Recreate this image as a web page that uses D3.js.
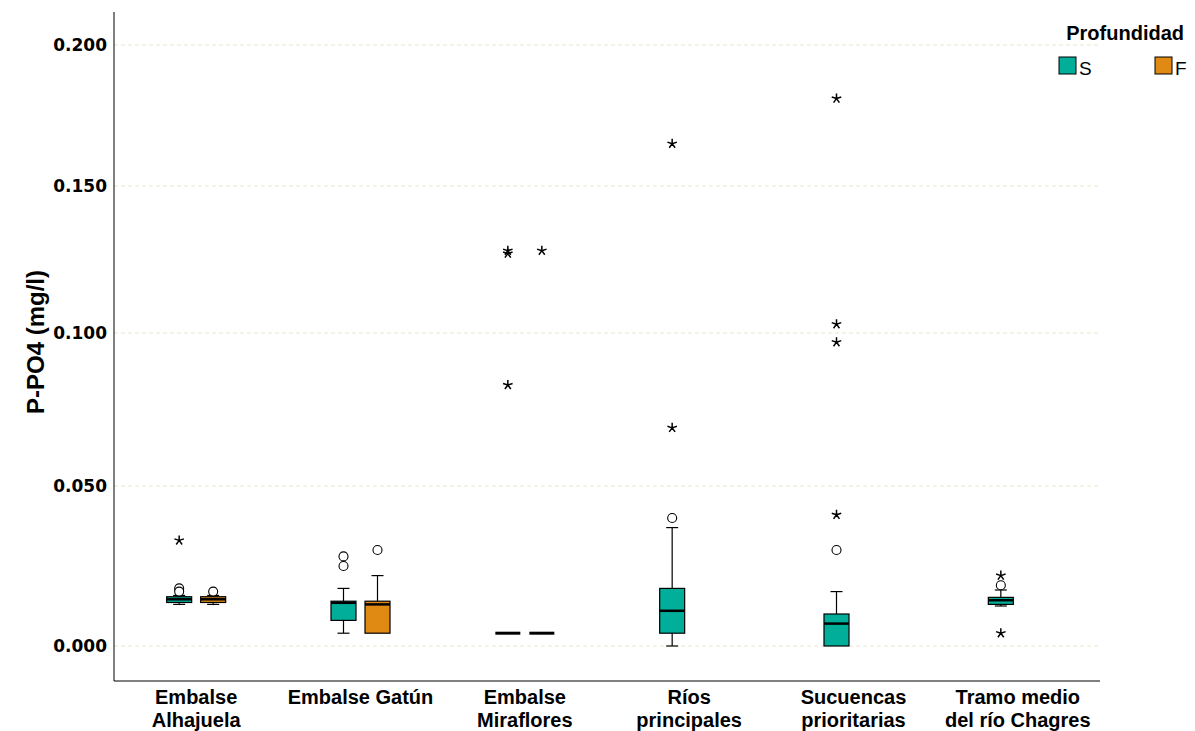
<!DOCTYPE html>
<html><head><meta charset="utf-8">
<script src="https://cdn.jsdelivr.net/npm/d3@7"></script>
<style>body{margin:0;background:#fff}svg{display:block}</style>
</head><body>
<svg id="c" width="1195" height="731"></svg>
<script>
const categories = [["Embalse","Alhajuela"],["Embalse Gatún"],["Embalse","Miraflores"],["Ríos","principales"],["Sucuencas","prioritarias"],["Tramo medio","del río Chagres"]];
const catKeys = categories.map(c => c.join(" "));
const depths = ["S","F"];
const depthColors = ["#00ae9a","#e08a14"];
const yTicks = [0, 0.05, 0.1, 0.15, 0.2];

// S (superficie)
const sLow  = [0.013, 0.004, 0.004, 0.000, 0.000, 0.0125];
const sQ1   = [0.0136,0.008, 0.004, 0.004, 0.000, 0.013];
const sMed  = [0.0146,0.0135,0.004, 0.011, 0.007, 0.0143];
const sQ3   = [0.0154,0.014, 0.004, 0.018, 0.010, 0.0152];
const sHigh = [0.0158,0.018, 0.004, 0.037, 0.017, 0.0175];
const sCircles = [[0.018,0.017],[0.028,0.025],[],[0.040],[0.030],[0.019]];
const sStars   = [[0.033],[],[0.128,0.127,0.083],[0.165,0.069],[0.181,0.103,0.097,0.041],[0.022,0.004]];
// F (fondo)
const fLow  = [0.013, 0.004, 0.004, null, null, null];
const fQ1   = [0.0136,0.004, 0.004, null, null, null];
const fMed  = [0.0146,0.013, 0.004, null, null, null];
const fQ3   = [0.0154,0.014, 0.004, null, null, null];
const fHigh = [0.0158,0.022, 0.004, null, null, null];
const fCircles = [[0.017],[0.030],[],[],[],[]];
const fStars   = [[],[],[0.128],[],[],[]];

const svg = d3.select("#c");
const left = 114, right = 1100, axisTop = 12, axisBottom = 681;

const x = d3.scaleBand().domain(catKeys).range([left, right]).padding(0);
const sub = d3.scaleBand().domain(depths).range([-34, 34]);
const y = d3.scaleLinear().domain(yTicks).range([646, 486, 333, 186, 45]);

// grid
svg.append("g").selectAll("line").data(yTicks).join("line")
  .attr("x1", left).attr("x2", right)
  .attr("y1", d => y(d)).attr("y2", d => y(d))
  .attr("stroke", "#e9e5cc").attr("stroke-width", 1).attr("stroke-dasharray", "4,3");

// axes lines
svg.append("line").attr("x1", left).attr("x2", left).attr("y1", axisTop).attr("y2", axisBottom).attr("stroke","#000").attr("stroke-width",1);
svg.append("line").attr("x1", left).attr("x2", right).attr("y1", axisBottom).attr("y2", axisBottom).attr("stroke","#000").attr("stroke-width",1);

// y tick labels
const yAxis = svg.append("g").attr("transform", `translate(${left-7},0)`)
  .call(d3.axisLeft(y).tickValues(yTicks).tickSize(0).tickFormat(d3.format(".3f")));
yAxis.select(".domain").remove();
yAxis.selectAll("text").attr("font-family","DejaVu Sans, Verdana, sans-serif").attr("font-weight","bold").attr("font-size",17).attr("fill","#000").attr("dy","0.35em").attr("x",0);

// y label
svg.append("text").attr("transform","translate(44,342) rotate(-90)").attr("text-anchor","middle")
  .attr("font-family","Liberation Sans, Arial, sans-serif").attr("font-weight","bold").attr("font-size",24).text("P-PO4 (mg/l)");

// x labels
const xl = svg.append("g");
categories.forEach((lines, i) => {
  const cx = x(catKeys[i]) + x.bandwidth()/2;
  const t = xl.append("text").attr("text-anchor","middle").attr("x", cx)
    .attr("y", 704).attr("font-family","Liberation Sans, Arial, sans-serif").attr("font-weight","bold").attr("font-size",20);
  lines.forEach((l, j) => t.append("tspan").attr("x", cx).attr("dy", j ? 23 : 0).text(l));
});

// star symbol (5-arm asterisk)
const star5 = { draw(ctx, size) { const r = Math.sqrt(size)/2; for (let k=0;k<5;k++){ const a = -Math.PI/2 + k*2*Math.PI/5; ctx.moveTo(0,0); ctx.lineTo(r*Math.cos(a), r*Math.sin(a)); } } };

const boxW = 25, capW = 12;
const series = [
  {key:"S", color:depthColors[0], low:sLow, q1:sQ1, med:sMed, q3:sQ3, high:sHigh, circ:sCircles, stars:sStars},
  {key:"F", color:depthColors[1], low:fLow, q1:fQ1, med:fMed, q3:fQ3, high:fHigh, circ:fCircles, stars:fStars}
];
const g = svg.append("g");
series.forEach(s => {
  catKeys.forEach((c, i) => {
    const cx = x(c) + x.bandwidth()/2 + sub(s.key) + sub.bandwidth()/2;
    const gg = g.append("g");
    if (s.med[i] !== null) {
      gg.append("line").attr("x1",cx).attr("x2",cx).attr("y1",y(s.low[i])).attr("y2",y(s.q1[i])).attr("stroke","#000").attr("stroke-width",1.2);
      gg.append("line").attr("x1",cx).attr("x2",cx).attr("y1",y(s.q3[i])).attr("y2",y(s.high[i])).attr("stroke","#000").attr("stroke-width",1.2);
      if (s.low[i] < s.q1[i]) gg.append("line").attr("x1",cx-capW/2).attr("x2",cx+capW/2).attr("y1",y(s.low[i])).attr("y2",y(s.low[i])).attr("stroke","#000").attr("stroke-width",1.2);
      if (s.high[i] > s.q3[i]) gg.append("line").attr("x1",cx-capW/2).attr("x2",cx+capW/2).attr("y1",y(s.high[i])).attr("y2",y(s.high[i])).attr("stroke","#000").attr("stroke-width",1.2);
      gg.append("rect").attr("x",cx-boxW/2).attr("width",boxW).attr("y",y(s.q3[i])).attr("height",Math.max(0,y(s.q1[i])-y(s.q3[i])))
        .attr("fill",s.color).attr("stroke","#000").attr("stroke-width",1.2);
      const medW = (s.q1[i] === s.q3[i]) ? 3 : 2.5;
      gg.append("line").attr("x1",cx-boxW/2).attr("x2",cx+boxW/2).attr("y1",y(s.med[i])).attr("y2",y(s.med[i])).attr("stroke","#000").attr("stroke-width",medW);
    }
    gg.selectAll("circle").data(s.circ[i]).join("circle").attr("cx",cx).attr("cy",d=>y(d)).attr("r",4.5)
      .attr("fill","#fff").attr("stroke","#000").attr("stroke-width",1.1);
    gg.selectAll("path.star").data(s.stars[i]).join("path").attr("class","star")
      .attr("transform",d=>`translate(${cx},${y(d)})`).attr("d", d3.symbol().type(star5).size(100))
      .attr("fill","none").attr("stroke","#000").attr("stroke-width",1.5);
  });
});

// legend
const lg = svg.append("g");
lg.append("text").attr("x",1184).attr("y",40).attr("text-anchor","end").attr("font-family","Liberation Sans, Arial, sans-serif").attr("font-weight","bold").attr("font-size",20).text("Profundidad");
const legX = [1059, 1155];
depths.forEach((d, i) => {
  lg.append("rect").attr("x",legX[i]).attr("y",57).attr("width",17).attr("height",17).attr("fill",depthColors[i]).attr("stroke","#000").attr("stroke-width",1);
  lg.append("text").attr("x",legX[i]+20).attr("y",75).attr("font-family","Liberation Sans, Arial, sans-serif").attr("font-size",19).text(d);
});
</script>
</body></html>
